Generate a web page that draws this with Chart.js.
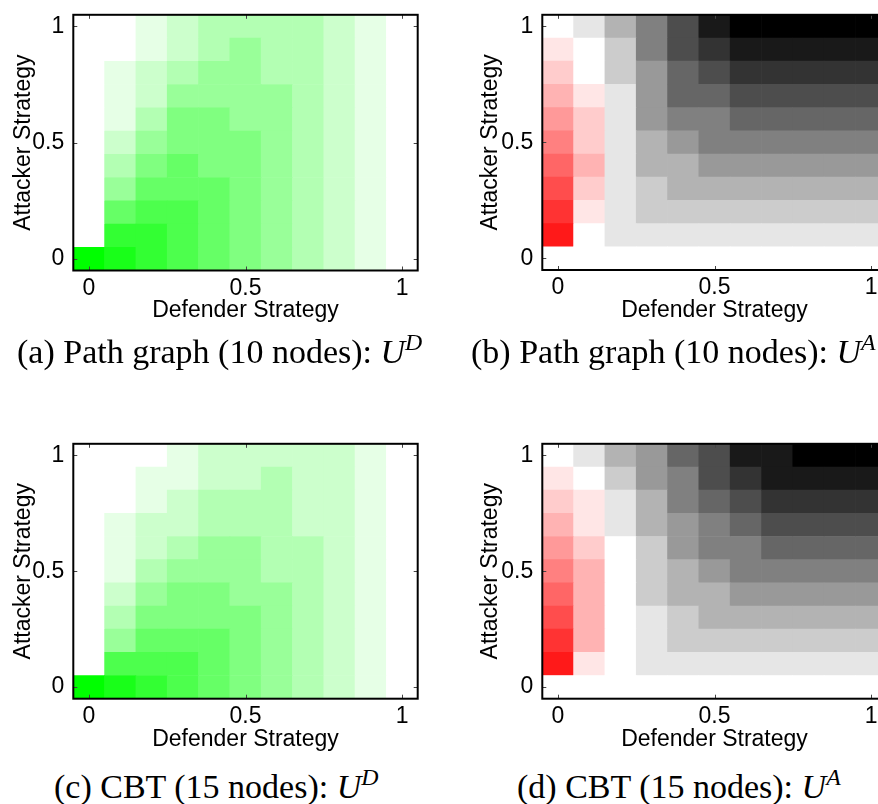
<!DOCTYPE html>
<html>
<head>
<meta charset="utf-8">
<title>Strategy utility maps</title>
<script src="https://cdn.jsdelivr.net/npm/chart.js@4"></script>
<style>
  html, body { margin: 0; padding: 0; background: #fff; overflow: hidden; }
  body { width: 878px; height: 804px; position: relative; }
  .panel { position: absolute; }
  .panel canvas { display: block; }
  .cap {
    position: absolute;
    font-family: "Liberation Serif", "Times New Roman", serif;
    font-size: 34px;
    line-height: 40px;
    white-space: nowrap;
    color: #000;
  }
  .cap sup { font-size: 0.7em; vertical-align: 0.55em; line-height: 0; }
</style>
</head>
<body>

<div class="panel" style="left:0;top:0"><canvas id="pathD" width="440" height="330"></canvas></div>
<div class="panel" style="left:440px;top:0"><canvas id="pathA" width="460" height="330"></canvas></div>
<div class="panel" style="left:0;top:429px"><canvas id="cbtD" width="440" height="330"></canvas></div>
<div class="panel" style="left:440px;top:429px"><canvas id="cbtA" width="460" height="330"></canvas></div>

<div class="cap" style="left:17px;top:332px">(a) Path graph (10 nodes): <i>U<sup>D</sup></i></div>
<div class="cap" style="left:471px;top:332px">(b) Path graph (10 nodes): <i>U<sup>A</sup></i></div>
<div class="cap" style="left:54px;top:767px">(c) CBT (15 nodes): <i>U<sup>D</sup></i></div>
<div class="cap" style="left:517px;top:767px">(d) CBT (15 nodes): <i>U<sup>A</sup></i></div>

<script>
// strategy grid shared by both axes
const strategies = [0, 0.1, 0.2, 0.3, 0.4, 0.5, 0.6, 0.7, 0.8, 0.9, 1];
const tickVals = [0, 0.5, 1];

// each table: first row = attacker strategy 0, last row = attacker strategy 1;
// columns follow defender strategy 0 .. 1
const pathUD = [
  [1.0, 0.9, 0.8, 0.7, 0.6, 0.5, 0.4, 0.3, 0.2, 0.1, 0],
  [0,   0.8, 0.8, 0.7, 0.6, 0.5, 0.4, 0.3, 0.2, 0.1, 0],
  [0,   0.6, 0.7, 0.7, 0.6, 0.5, 0.4, 0.3, 0.2, 0.1, 0],
  [0,   0.4, 0.6, 0.6, 0.6, 0.5, 0.4, 0.3, 0.2, 0.1, 0],
  [0,   0.3, 0.5, 0.6, 0.5, 0.5, 0.4, 0.3, 0.2, 0.1, 0],
  [0,   0.2, 0.4, 0.5, 0.5, 0.5, 0.4, 0.3, 0.2, 0.1, 0],
  [0,   0.1, 0.3, 0.5, 0.5, 0.4, 0.4, 0.3, 0.2, 0.1, 0],
  [0,   0.1, 0.2, 0.4, 0.4, 0.4, 0.4, 0.3, 0.2, 0.1, 0],
  [0,   0.1, 0.2, 0.3, 0.4, 0.4, 0.3, 0.3, 0.2, 0.1, 0],
  [0,   0,   0.1, 0.2, 0.3, 0.4, 0.3, 0.3, 0.2, 0.1, 0],
  [0,   0,   0.1, 0.2, 0.3, 0.3, 0.3, 0.3, 0.2, 0.1, 0]
];

// negative utilities are drawn in red, positive in grey
const pathUA = [
  [0,    0,    0,   0,   0,   0,   0,   0,   0,   0,   0],
  [-0.9, 0,    0.1, 0.1, 0.1, 0.1, 0.1, 0.1, 0.1, 0.1, 0.1],
  [-0.8, -0.1, 0.1, 0.2, 0.2, 0.2, 0.2, 0.2, 0.2, 0.2, 0.2],
  [-0.7, -0.2, 0.1, 0.2, 0.3, 0.3, 0.3, 0.3, 0.3, 0.3, 0.3],
  [-0.6, -0.3, 0.1, 0.3, 0.3, 0.4, 0.4, 0.4, 0.4, 0.4, 0.4],
  [-0.5, -0.2, 0.1, 0.3, 0.4, 0.5, 0.5, 0.5, 0.5, 0.5, 0.5],
  [-0.4, -0.2, 0.1, 0.4, 0.5, 0.5, 0.6, 0.6, 0.6, 0.6, 0.6],
  [-0.3, -0.1, 0.1, 0.4, 0.6, 0.6, 0.7, 0.7, 0.7, 0.7, 0.7],
  [-0.2, 0,    0.2, 0.4, 0.6, 0.7, 0.8, 0.8, 0.8, 0.8, 0.8],
  [-0.1, 0,    0.2, 0.5, 0.7, 0.8, 0.9, 0.9, 0.9, 0.9, 0.9],
  [0,    0.1,  0.3, 0.5, 0.7, 0.9, 1.0, 1.0, 1.0, 1.0, 1.0]
];

const cbtUD = [
  [1.0, 0.9, 0.8, 0.7, 0.6, 0.5, 0.4, 0.3, 0.2, 0.1, 0],
  [0,   0.7, 0.7, 0.7, 0.6, 0.5, 0.4, 0.3, 0.2, 0.1, 0],
  [0,   0.4, 0.6, 0.6, 0.6, 0.5, 0.4, 0.3, 0.2, 0.1, 0],
  [0,   0.3, 0.5, 0.5, 0.5, 0.5, 0.4, 0.3, 0.2, 0.1, 0],
  [0,   0.2, 0.4, 0.5, 0.5, 0.4, 0.4, 0.3, 0.2, 0.1, 0],
  [0,   0.1, 0.3, 0.4, 0.4, 0.4, 0.3, 0.3, 0.2, 0.1, 0],
  [0,   0.1, 0.2, 0.3, 0.4, 0.4, 0.3, 0.3, 0.2, 0.1, 0],
  [0,   0.1, 0.2, 0.2, 0.3, 0.3, 0.3, 0.2, 0.2, 0.1, 0],
  [0,   0,   0.1, 0.2, 0.3, 0.3, 0.3, 0.2, 0.2, 0.1, 0],
  [0,   0,   0.1, 0.1, 0.2, 0.2, 0.3, 0.2, 0.2, 0.1, 0],
  [0,   0,   0,   0.1, 0.2, 0.2, 0.2, 0.2, 0.2, 0.1, 0]
];

const cbtUA = [
  [0,    0,    0, 0,   0,   0,   0,   0,   0,   0,   0],
  [-0.9, -0.1, 0, 0.1, 0.1, 0.1, 0.1, 0.1, 0.1, 0.1, 0.1],
  [-0.8, -0.3, 0, 0.1, 0.2, 0.2, 0.2, 0.2, 0.2, 0.2, 0.2],
  [-0.7, -0.3, 0, 0.1, 0.2, 0.3, 0.3, 0.3, 0.3, 0.3, 0.3],
  [-0.6, -0.3, 0, 0.2, 0.3, 0.3, 0.4, 0.4, 0.4, 0.4, 0.4],
  [-0.5, -0.3, 0, 0.2, 0.3, 0.4, 0.5, 0.5, 0.5, 0.5, 0.5],
  [-0.4, -0.2, 0, 0.2, 0.4, 0.5, 0.5, 0.6, 0.6, 0.6, 0.6],
  [-0.3, -0.1, 0.1, 0.3, 0.4, 0.5, 0.6, 0.7, 0.7, 0.7, 0.7],
  [-0.2, -0.1, 0.1, 0.3, 0.5, 0.6, 0.7, 0.8, 0.8, 0.8, 0.8],
  [-0.1, 0,    0.2, 0.4, 0.5, 0.7, 0.8, 0.9, 0.9, 0.9, 0.9],
  [0,    0.1,  0.3, 0.4, 0.6, 0.7, 0.9, 0.9, 1.0, 1.0, 1.0]
];

const greenOf = v => {
  const c = Math.round(255 * (1 - v));
  return `rgb(${c},255,${c})`;
};
const greyRedOf = v => {
  if (v < 0) {
    const c = Math.round(255 * (1 + v));
    return `rgb(255,${c},${c})`;
  }
  const c = Math.round(255 * (1 - v));
  return `rgb(${c},${c},${c})`;
};

const axisFont = { family: '"Liberation Sans", Arial, sans-serif', size: 23 };

// black box with short inward ticks on all four sides
const framePlugin = {
  id: 'frame',
  afterDraw(chart) {
    const { ctx, chartArea: a, scales: { x, y } } = chart;
    const len = 4;
    ctx.save();
    ctx.strokeStyle = '#444';
    ctx.lineWidth = 1;
    ctx.beginPath();
    tickVals.forEach(v => {
      const px = Math.round(x.getPixelForValue(v)) + 0.5;
      const py = Math.round(y.getPixelForValue(v)) + 0.5;
      ctx.moveTo(px, a.bottom); ctx.lineTo(px, a.bottom - len);
      ctx.moveTo(px, a.top); ctx.lineTo(px, a.top + len);
      ctx.moveTo(a.left, py); ctx.lineTo(a.left + len, py);
      ctx.moveTo(a.right, py); ctx.lineTo(a.right - len, py);
    });
    ctx.stroke();
    ctx.strokeStyle = '#000';
    ctx.lineWidth = 2;
    ctx.strokeRect(a.left, a.top, a.right - a.left, a.bottom - a.top);
    ctx.restore();
  }
};

function heatmap(id, grid, colorOf, box) {
  const canvas = document.getElementById(id);
  const W = canvas.width, H = canvas.height;
  const half = (strategies[1] - strategies[0]) / 2;
  const lo = strategies[0] - half, hi = strategies[strategies.length - 1] + half;

  // one floating-bar dataset per attacker strategy row
  const datasets = grid.map((row, j) => ({
    data: strategies.map(x => ({ x, y: [strategies[j] - half, strategies[j] + half] })),
    backgroundColor: row.map(colorOf),
    borderWidth: 0,
    barPercentage: 1,
    categoryPercentage: 1,
    grouped: false
  }));

  const fixTicks = s => { s.ticks = tickVals.map(v => ({ value: v })); };

  return new Chart(canvas, {
    type: 'bar',
    data: { datasets },
    options: {
      responsive: false,
      animation: false,
      events: [],
      layout: { padding: { left: 0, top: box.top, right: W - box.right, bottom: 0 } },
      plugins: { legend: { display: false }, tooltip: { enabled: false } },
      scales: {
        x: {
          type: 'linear', min: lo, max: hi, offset: false,
          grid: { display: false }, border: { display: false },
          afterBuildTicks: fixTicks,
          afterFit: s => { s.height = H - box.bottom; },
          ticks: { font: axisFont, color: '#000', padding: -4, maxRotation: 0, autoSkip: false,
                   callback: v => String(v) },
          title: { display: true, text: 'Defender Strategy', font: axisFont, color: '#000',
                   padding: { top: 0, bottom: 6 } }
        },
        y: {
          type: 'linear', min: lo, max: hi,
          grid: { display: false }, border: { display: false },
          afterBuildTicks: fixTicks,
          afterFit: s => { s.width = box.left; },
          ticks: { font: axisFont, color: '#000', padding: 1, autoSkip: false,
                   callback: v => String(v) },
          title: { display: true, text: 'Attacker Strategy', font: axisFont, color: '#000',
                   padding: { top: box.titlePad, bottom: 0 } }
        }
      }
    },
    plugins: [framePlugin]
  });
}

heatmap('pathD', pathUD, greenOf,   { left: 73.3,  top: 6,   right: 417.7, bottom: 270.5, titlePad: 10 });
heatmap('pathA', pathUA, greyRedOf, { left: 102.3, top: 6.5, right: 446.7, bottom: 270,   titlePad: 37 });
heatmap('cbtD',  cbtUD,  greenOf,   { left: 73.3,  top: 6,   right: 417.7, bottom: 269.7, titlePad: 10 });
heatmap('cbtA',  cbtUA,  greyRedOf, { left: 102.3, top: 6,   right: 446.7, bottom: 269.7, titlePad: 37 });
</script>
</body>
</html>
